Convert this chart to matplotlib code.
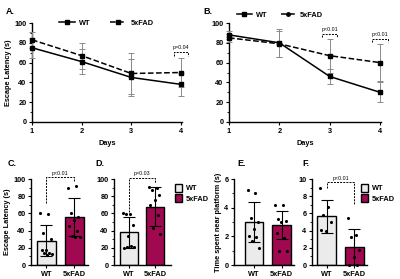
import numpy as np
import matplotlib
matplotlib.use("Agg")
import matplotlib.pyplot as plt
from matplotlib.lines import Line2D
from matplotlib.patches import Patch
from matplotlib.ticker import MultipleLocator

plt.rcParams['font.family'] = ['Liberation Sans', 'DejaVu Sans']
plt.rcParams['font.weight'] = 'bold'

# ---------------- data ----------------
days = [1, 2, 3, 4]
groups = ["WT", "5xFAD"]

wt_A = [75, 61, 45, 38]
wt_A_sd = [10, 13, 19, 12]
fad_A = [83, 67, 49, 50]
fad_A_sd = [8, 13, 21, 15]

wt_B = [88, 80, 46, 30]
wt_B_sd = [4, 14, 8, 10]
fad_B = [85, 79, 67, 60]
fad_B_sd = [4, 13, 17, 19]

C_means = [28, 56]
C_sd = [18, 22]
C_wt_pts = [60, 59, 37, 30, 17, 17, 14, 14, 13, 12]
C_fad_pts = [90, 92, 61, 56, 52, 45, 39, 34, 33, 33]

D_means = [38, 68]
D_sd = [18, 23]
D_wt_pts = [60, 59, 59, 46, 34, 20, 22, 21, 21]
D_fad_pts = [91, 90, 87, 81, 76, 70, 58, 43, 36]

E_means = [3.0, 2.8]
E_sd = [1.4, 1.0]
E_wt_pts = [5.25, 5.0, 3.3, 3.0, 2.5, 2.05, 1.94, 1.67, 1.22]
E_fad_pts = [4.16, 4.16, 3.2, 3.06, 3.0, 2.2, 1.9, 1.0, 1.0]

F_means = [5.65, 2.1]
F_sd = [1.9, 2.05]
F_wt_pts = [8.9, 6.8, 5.8, 4.95, 3.92, 4.1]
F_fad_pts = [5.5, 3.45, 3.3, 1.76, 0.9, 0, 0]

# ---------------- style ----------------
MAROON = '#A0094F'
LIGHT = '#EBEBEB'
GREY = '#8a8a8a'
FS = 5.3
PFS = 3.8

fig = plt.figure(figsize=(4, 2.79), dpi=100)


def ax_px(l, t, r, b):
    return fig.add_axes([l / 400, 1 - b / 279, (r - l) / 400, (b - t) / 279])


def style(ax):
    for s in ['top', 'right']:
        ax.spines[s].set_visible(False)
    for s in ['left', 'bottom']:
        ax.spines[s].set_linewidth(1.0)
    ax.tick_params(axis='both', labelsize=FS, length=2.5, width=0.8, pad=1.5)
    ax.tick_params(axis='y', which='minor', length=1.5, width=0.6)
    for lab in ax.get_xticklabels() + ax.get_yticklabels():
        lab.set_fontweight('bold')


def bracket_h(ax, x0, x1, y, yl, yr, text, ty):
    ls = (0, (2, 1.2))
    ax.plot([x0, x0, x1, x1], [yl, y, y, yr], color='black', lw=0.7,
            linestyle=ls, clip_on=False)
    ax.text((x0 + x1) / 2, ty, text, ha='center', va='bottom', fontsize=PFS,
            fontweight='normal', clip_on=False)


def line_panel(ax, wt, wsd, fad, fsd):
    ax.errorbar(days, fad, yerr=fsd, color='black', ls='--', lw=1.1,
                marker='s', ms=3, ecolor=GREY, elinewidth=0.7, capsize=2,
                capthick=0.7, label='5xFAD', clip_on=False, zorder=3)
    ax.errorbar(days, wt, yerr=wsd, color='black', ls='-', lw=1.1,
                marker='s', ms=3, ecolor=GREY, elinewidth=0.7, capsize=2,
                capthick=0.7, label='WT', clip_on=False, zorder=3)
    ax.set_xlim(1, 4.02)
    ax.set_ylim(0, 100)
    ax.set_xticks(days)
    ax.set_yticks([0, 20, 40, 60, 80, 100])
    ax.yaxis.set_minor_locator(MultipleLocator(10))
    style(ax)


# Panel A
axA = ax_px(32, 23, 182, 122)
line_panel(axA, wt_A, wt_A_sd, fad_A, fad_A_sd)
axA.set_ylabel('Escape Latency (s)', fontsize=FS, fontweight='bold', labelpad=2)
axA.set_xlabel('Days', fontsize=FS, fontweight='bold', labelpad=4)
bracket_h(axA, 3.85, 4.15, 71, 67, 67, 'p=0.04', 73)
h_wt = Line2D([], [], color='black', ls='-', lw=1.1, marker='s', ms=3)
h_fad = Line2D([], [], color='black', ls='--', lw=1.1, marker='s', ms=3)
axA.legend([h_wt, h_fad], groups, loc='center', ncol=2, frameon=False,
           bbox_to_anchor=(106 / 400, 1 - 23 / 279), bbox_transform=fig.transFigure,
           handlelength=2.2, columnspacing=2.6, handletextpad=0.6,
           prop={'weight': 'bold', 'size': FS})

# Panel B
axB = ax_px(229, 23, 381, 122)
line_panel(axB, wt_B, wt_B_sd, fad_B, fad_B_sd)
axB.set_xlabel('Days', fontsize=FS, fontweight='bold', labelpad=4)
bracket_h(axB, 2.85, 3.15, 89, 86, 86, 'p<0.01', 91)
bracket_h(axB, 3.85, 4.15, 84, 81, 81, 'p<0.01', 86)
h_fad2 = Line2D([], [], color='black', ls='--', lw=1.1, marker='o', ms=2.5)
axB.legend([h_wt, h_fad2], groups, loc='center', ncol=2, frameon=False,
           bbox_to_anchor=(280 / 400, 1 - 15 / 279), bbox_transform=fig.transFigure,
           handlelength=2.0, columnspacing=1.8, handletextpad=0.6,
           prop={'weight': 'bold', 'size': FS})


def jitter(n, width=0.22):
    return [((i * 0.618) % 1 - 0.5) * 2 * width for i in range(n)]


def bar_panel(ax, means, sds, wt_pts, fad_pts, ymax, major, minor, xlim):
    xs = [0, 1]
    ax.bar(xs, means, width=0.68, color=[LIGHT, MAROON], edgecolor='black',
           linewidth=1.0, zorder=1)
    ax.errorbar(xs, means, yerr=sds, fmt='none', ecolor='black', elinewidth=0.8,
                capsize=4.5, capthick=0.8, zorder=3)
    for x0, pts in zip(xs, [wt_pts, fad_pts]):
        jx = jitter(len(pts))
        ax.scatter([x0 + j for j in jx], pts, s=5, color='black', zorder=4,
                   clip_on=False, linewidths=0)
    ax.set_xlim(*xlim)
    ax.set_ylim(0, ymax)
    ax.set_yticks(np.arange(0, ymax + 0.01, major))
    ax.yaxis.set_minor_locator(MultipleLocator(minor))
    ax.set_xticks(xs)
    ax.set_xticklabels(groups)
    style(ax)


axC = ax_px(31, 179, 88, 265)
bar_panel(axC, C_means, C_sd, C_wt_pts, C_fad_pts, 100, 20, 10, (-0.56, 1.5))
axC.set_ylabel('Escape Latency (s)', fontsize=FS, fontweight='bold', labelpad=2)
bracket_h(axC, 0, 1, 102, 72, 96, 'p<0.01', 104)

axD = ax_px(114, 179, 171, 265)
bar_panel(axD, D_means, D_sd, D_wt_pts, D_fad_pts, 100, 20, 10, (-0.56, 1.6))
bracket_h(axD, 0, 1, 101, 62, 95, 'p=0.03', 103)

axE = ax_px(234, 179, 294, 265)
bar_panel(axE, E_means, E_sd, E_wt_pts, E_fad_pts, 6, 2, 1, (-0.72, 1.45))
axE.set_ylabel('Time spent near platform (s)', fontsize=FS, fontweight='bold', labelpad=2)

axF = ax_px(312, 179, 367, 265)
bar_panel(axF, F_means, F_sd, F_wt_pts, F_fad_pts, 10, 2, 1, (-0.52, 1.45))
bracket_h(axF, 0, 1, 9.6, 9.0, 7.1, 'p<0.01', 9.8)

# bar legends
hp = [Patch(facecolor=LIGHT, edgecolor='black', linewidth=1.0),
      Patch(facecolor=MAROON, edgecolor='black', linewidth=1.0)]
for lx in (175, 361):
    fig.legend(hp, groups, loc='upper left', frameon=False,
               bbox_to_anchor=(lx / 400, 1 - 184 / 279),
               handlelength=1.0, handleheight=1.2, handletextpad=0.5,
               labelspacing=0.3, borderaxespad=0, borderpad=0,
               prop={'weight': 'bold', 'size': FS})

# panel letters
for t, x, y in [('A.', 6, 12), ('B.', 203, 12), ('C.', 8, 164),
                ('D.', 95, 164), ('E.', 237, 164), ('F.', 302, 164)]:
    fig.text(x / 400, 1 - y / 279, t, fontsize=6.5, fontweight='bold',
             ha='left', va='center')

fig.savefig('out.png', dpi=100)
